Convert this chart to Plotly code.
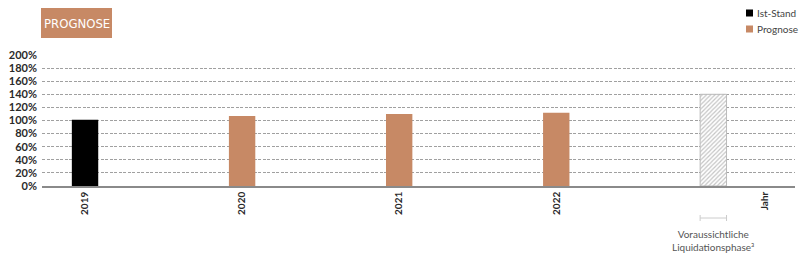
import plotly.graph_objects as go

years_actual = ["2019"]
values_actual = [101]
years_forecast = ["2020", "2021", "2022"]
values_forecast = [107, 110, 112]
liquidation_value = [140]
tick_labels = ["2019", "2020", "2021", "2022", "Jahr"]
y_ticks = [0, 20, 40, 60, 80, 100, 120, 140, 160, 180, 200]

BROWN = "#C78965"
pos_actual = [0]
pos_forecast = [1, 2, 3]
pos_liq = [4]
bw = 0.168

fig = go.Figure()
fig.add_bar(x=pos_actual, y=values_actual, width=bw, marker=dict(color="#000000", line=dict(width=0)), name="Ist-Stand")
fig.add_bar(x=pos_forecast, y=values_forecast, width=bw, marker=dict(color=BROWN, line=dict(width=0)), name="Prognose")
fig.add_bar(x=pos_liq, y=liquidation_value, width=bw,
            marker=dict(color="white", line=dict(color="#BBBBBB", width=1),
                        pattern=dict(shape="/", fgcolor="#8A8A8A", bgcolor="white", size=3, solidity=0.4)),
            name="Liquidation")

fig.update_layout(
    width=799, height=259,
    margin=dict(l=42, r=4, t=55, b=73),
    paper_bgcolor="white", plot_bgcolor="white",
    showlegend=False, barmode="overlay",
    font=dict(family="Lato", color="#333333"),
    xaxis=dict(range=[-0.274, 4.52], tickvals=[0, 1, 2, 3, 4.33], ticktext=tick_labels,
               tickangle=-90, tickfont=dict(size=10, family="Lato", color="#2a2a2a", weight="bold"),
               showgrid=False, showline=True, linecolor="#8a8a8a", linewidth=1.5, ticks="", zeroline=False),
    yaxis=dict(range=[0, 200], tickvals=y_ticks, ticktext=[f"{v}%" for v in y_ticks],
               tickfont=dict(size=11, family="Lato", color="#2a2a2a", weight="bold"),
               showgrid=True, gridcolor="#A0A0A0", griddash="3px,1.5px", gridwidth=1,
               zeroline=False, ticks="", ticklabelstandoff=4),
)


def px_to_paper_x(px):
    return (px - 42) / (799 - 42 - 4)


def px_to_paper_y(py):
    return (259 - 73 - py) / (259 - 55 - 73)


# title box
fig.add_shape(type="rect", xref="paper", yref="paper",
              x0=px_to_paper_x(41), x1=px_to_paper_x(112),
              y0=px_to_paper_y(38), y1=px_to_paper_y(8),
              fillcolor=BROWN, line=dict(width=0))
fig.add_annotation(xref="paper", yref="paper", x=px_to_paper_x(76.5), y=px_to_paper_y(23),
                   xanchor="center", yanchor="middle", text="PROGNOSE", showarrow=False,
                   font=dict(size=13, color="white", family="DejaVu Sans Condensed, Lato"))

# manual legend
for py, col, label in [(13, "#000000", "Ist-Stand"), (29, BROWN, "Prognose")]:
    fig.add_shape(type="rect", xref="paper", yref="paper",
                  x0=px_to_paper_x(746), x1=px_to_paper_x(753),
                  y0=px_to_paper_y(py + 3.5), y1=px_to_paper_y(py - 3.5),
                  fillcolor=col, line=dict(width=0))
    fig.add_annotation(xref="paper", yref="paper", x=px_to_paper_x(755), y=px_to_paper_y(py),
                       xanchor="left", yanchor="middle", text=label, showarrow=False,
                       font=dict(size=10, color="#444444", family="Lato"))

# bracket under liquidation phase
by = px_to_paper_y(218)
fig.add_shape(type="line", xref="x", yref="paper", x0=4 - bw / 2, x1=4 + bw / 2, y0=by, y1=by,
              line=dict(color="#CCCCCC", width=1))
for xe in (4 - bw / 2, 4 + bw / 2):
    fig.add_shape(type="line", xref="x", yref="paper", x0=xe, x1=xe,
                  y0=px_to_paper_y(215), y1=px_to_paper_y(221), line=dict(color="#CCCCCC", width=1))
fig.add_annotation(xref="x", yref="paper", x=4, y=px_to_paper_y(226), xanchor="center", yanchor="top",
                   text="Voraussichtliche<br>Liquidationsphase³", showarrow=False,
                   font=dict(size=10, color="#555555", family="Lato"))

fig.write_html("out.html")
